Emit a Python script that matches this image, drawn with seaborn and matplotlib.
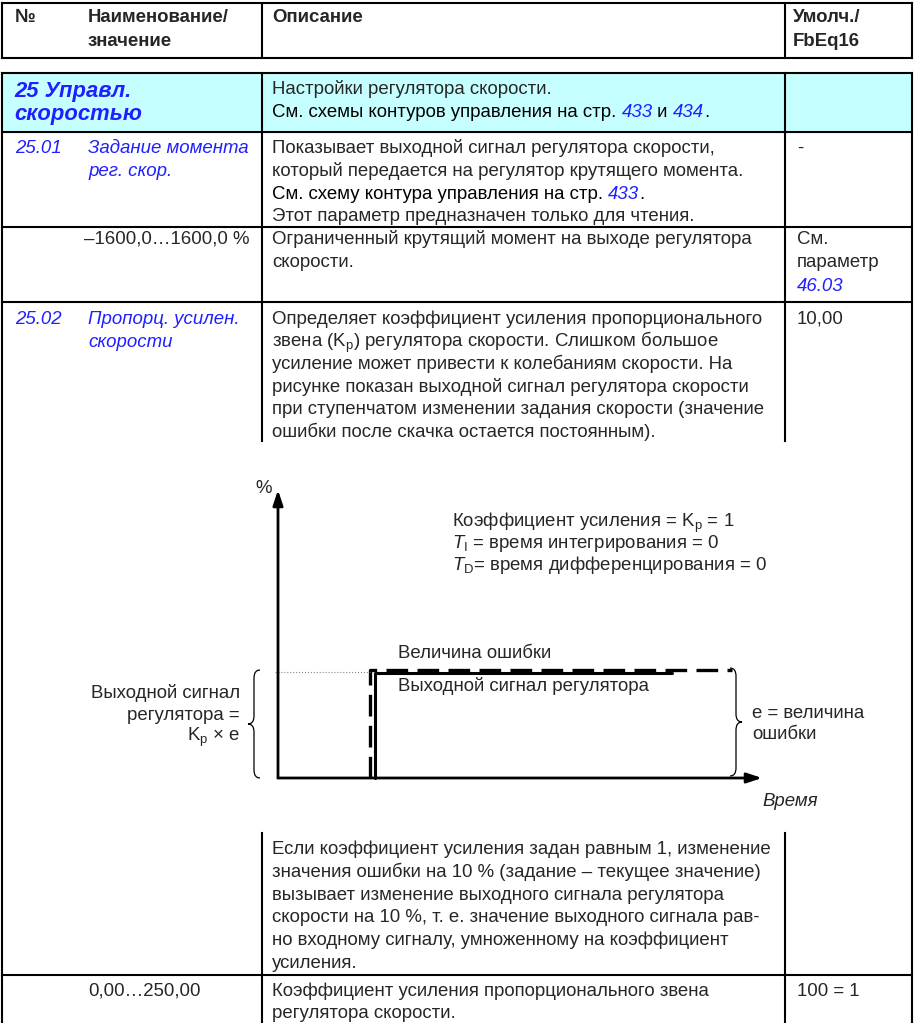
import matplotlib.pyplot as plt
import seaborn as sns
from matplotlib.path import Path
from matplotlib.patches import PathPatch, Rectangle

sns.set_style('white')
plt.rcParams['font.family'] = ['Liberation Sans', 'DejaVu Sans']
plt.rcParams['mathtext.fontset'] = 'custom'
plt.rcParams['mathtext.rm'] = 'Liberation Sans'
plt.rcParams['mathtext.it'] = 'Liberation Sans:italic'

BLUE = '#1f1fff'
CYAN = '#c6ffff'
FS = 13.4
LW = 1.5

# step response of the P controller (time, %)
err_time = [1.9, 1.9, 9.38]
err_value = [0, 37.5, 37.5]
out_time = [2.0, 2.0, 8.14]
out_value = [0, 36.6, 36.6]
ref_time = [-0.06, 1.9]
ref_value = [36.8, 36.8]

# table text
header_name = ['Наименование/', 'значение']
header_def = ['Умолч./', 'FbEq16']
group_title = ['25 Управл.', 'скоростью']
row1_name = ['Задание момента', 'рег. скор.']
row1_desc = ['Показывает выходной сигнал регулятора скорости,',
             'который передается на регулятор крутящего момента.']
row1_note = 'Этот параметр предназначен только для чтения.'
row1_range = '–1600,0…1600,0 %'
row1_range_desc = ['Ограниченный крутящий момент на выходе регулятора', 'скорости.']
row2_name = ['Пропорц. усилен.', 'скорости']
row2_desc = ['Определяет коэффициент усиления пропорционального',
             r'звена ($\mathregular{K_p}$) регулятора скорости. Слишком большое',
             'усиление может привести к колебаниям скорости. На',
             'рисунке показан выходной сигнал регулятора скорости',
             'при ступенчатом изменении задания скорости (значение',
             'ошибки после скачка остается постоянным).']
row2_note = ['Если коэффициент усиления задан равным 1, изменение',
             'значения ошибки на 10 % (задание – текущее значение)',
             'вызывает изменение выходного сигнала регулятора',
             'скорости на 10 %, т. е. значение выходного сигнала рав-',
             'но входному сигналу, умноженному на коэффициент',
             'усиления.']
row2_range = '0,00…250,00'
row2_range_desc = ['Коэффициент усиления пропорционального звена', 'регулятора скорости.']
params = [r'Коэффициент усиления = $\mathregular{K_p}$ = 1',
          r'$T_\mathregular{I}$ = время интегрирования = 0',
          r'$T_\mathregular{D}$= время дифференцирования = 0']

fig = plt.figure(figsize=(9.17, 10.23), dpi=100)
ax = fig.add_axes([0, 0, 1, 1])
ax.set_xlim(0, 917)
ax.set_ylim(1023, 0)
ax.axis('off')


def hline(y, x0=2, x1=912):
    ax.plot([x0, x1], [y, y], color='k', lw=LW, solid_capstyle='projecting')


def vline(x, y0, y1):
    ax.plot([x, x], [y0, y1], color='k', lw=LW, solid_capstyle='projecting')


def put(x, y, lines, step=23, **kw):
    kw.setdefault('fontsize', FS)
    kw.setdefault('va', 'baseline')
    for i, s in enumerate(lines):
        ax.text(x, y + i * step, s, **kw)


def segs(x, y, parts, size=FS):
    # text pieces in different colours on one line
    t = ax.text(x, y, parts[0][0], color=parts[0][1], style=parts[0][2],
                fontsize=size, va='baseline')
    for s, c, st in parts[1:]:
        t = ax.annotate(s, xy=(1, 0), xycoords=t, va='bottom', ha='left',
                        color=c, style=st, fontsize=size)


def brace(xs, top, bot, d, r=8):
    mid = (top + bot) / 2
    xe, xt = xs + d, xs - d
    verts = [(xe, top), (xs, top), (xs, top + r), (xs, mid - r), (xs, mid), (xt, mid),
             (xs, mid), (xs, mid + r), (xs, bot - r), (xs, bot), (xe, bot)]
    codes = [Path.MOVETO, Path.CURVE3, Path.CURVE3, Path.LINETO, Path.CURVE3, Path.CURVE3,
             Path.CURVE3, Path.CURVE3, Path.LINETO, Path.CURVE3, Path.CURVE3]
    ax.add_patch(PathPatch(Path(verts, codes), fill=False, lw=0.9, color='k'))


# header box
hline(3)
hline(58)
vline(2, 3, 58)
vline(912, 3, 58)
vline(262, 3, 58)
vline(785, 3, 58)
ax.text(15, 22, '№', fontsize=FS, weight='bold', va='baseline')
put(88, 22, header_name, step=24, weight='bold')
ax.text(272, 22, 'Описание', fontsize=FS, weight='bold', va='baseline')
put(793, 22, header_def, step=24, weight='bold')

# table frame
ax.add_patch(Rectangle((2, 73), 910, 59, color=CYAN, zorder=0))
for y in [73, 132, 227, 302, 975]:
    hline(y)
vline(2, 73, 1023)
vline(912, 73, 1023)
vline(262, 73, 441)
vline(785, 73, 441)
vline(262, 833, 1023)
vline(785, 833, 1023)

# group row
put(14, 97, group_title, step=23, color=BLUE, weight='bold', style='italic', fontsize=15.8)
ax.text(272, 94, 'Настройки регулятора скорости.', fontsize=FS, va='baseline')
segs(272, 117, [('См. схемы контуров управления на стр. ', 'k', 'normal'),
                ('433', BLUE, 'italic'), (' и ', 'k', 'normal'),
                ('434', BLUE, 'italic'), ('.', 'k', 'normal')])

# 25.01
ax.text(15, 153, '25.01', fontsize=FS, color=BLUE, style='italic', va='baseline')
put(88, 153, row1_name, color=BLUE, style='italic')
put(272, 153, row1_desc)
segs(272, 199, [('См. схему контура управления на стр. ', 'k', 'normal'),
                ('433', BLUE, 'italic'), ('.', 'k', 'normal')])
ax.text(272, 221, row1_note, fontsize=FS, va='baseline')
ax.text(797, 153, '-', fontsize=FS, va='baseline')
ax.text(250, 244, row1_range, fontsize=FS, va='baseline', ha='right')
put(272, 244, row1_range_desc)
put(797, 244, ['См.', 'параметр'])
ax.text(797, 291, '46.03', fontsize=FS, color=BLUE, style='italic', va='baseline')

# 25.02
ax.text(15, 324, '25.02', fontsize=FS, color=BLUE, style='italic', va='baseline')
put(88, 324, row2_name, color=BLUE, style='italic')
put(272, 324, row2_desc, step=22.6)
ax.text(797, 324, '10,00', fontsize=FS, va='baseline')

# diagram annotations
ax.text(255, 493, '%', fontsize=FS, va='baseline')
put(452, 527, params, step=21.5)
ax.text(398, 658, 'Величина ошибки', fontsize=FS, va='baseline')
ax.text(398, 691, 'Выходной сигнал регулятора', fontsize=FS, va='baseline')
put(240, 698, ['Выходной сигнал', 'регулятора =', r'$\mathregular{K_p}$ × e'],
    step=21.5, ha='right')
put(752, 718, ['e = величина', 'ошибки'], step=21)
ax.text(762, 806, 'Время', fontsize=FS, style='italic', va='baseline')
brace(254, 670, 778, 6)
brace(736, 668, 776, -6)

# lower rows
put(272, 854, row2_note, step=22.8)
ax.text(88, 996, row2_range, fontsize=FS, va='baseline')
put(272, 996, row2_range_desc, step=22)
ax.text(797, 996, '100 = 1', fontsize=FS, va='baseline')

# step response plot
dax = fig.add_axes([278 / 917, 1 - 778 / 1023, 484 / 917, 288 / 1023])
sns.lineplot(x=out_time, y=out_value, ax=dax, color='k', lw=2.2,
             sort=False, estimator=None)
sns.lineplot(x=err_time, y=err_value, ax=dax, color='k', lw=2.4,
             linestyle=(0, (6.5, 2.8)), sort=False, estimator=None)
sns.lineplot(x=ref_time, y=ref_value, ax=dax, color='#888888', lw=0.8,
             linestyle=':', sort=False, estimator=None)
dax.set_xlim(0, 10)
dax.set_ylim(0, 100)
dax.axis('off')
for line in dax.lines:
    line.set_clip_on(False)
arrow = dict(arrowstyle='-|>,head_length=0.9,head_width=0.3', lw=2, color='k',
             shrinkA=0, shrinkB=0)
dax.annotate('', xy=(1, 0), xytext=(0, 0), xycoords='axes fraction', arrowprops=arrow)
dax.annotate('', xy=(0, 1), xytext=(0, 0), xycoords='axes fraction', arrowprops=arrow)

fig.savefig('out.png', dpi=100)
